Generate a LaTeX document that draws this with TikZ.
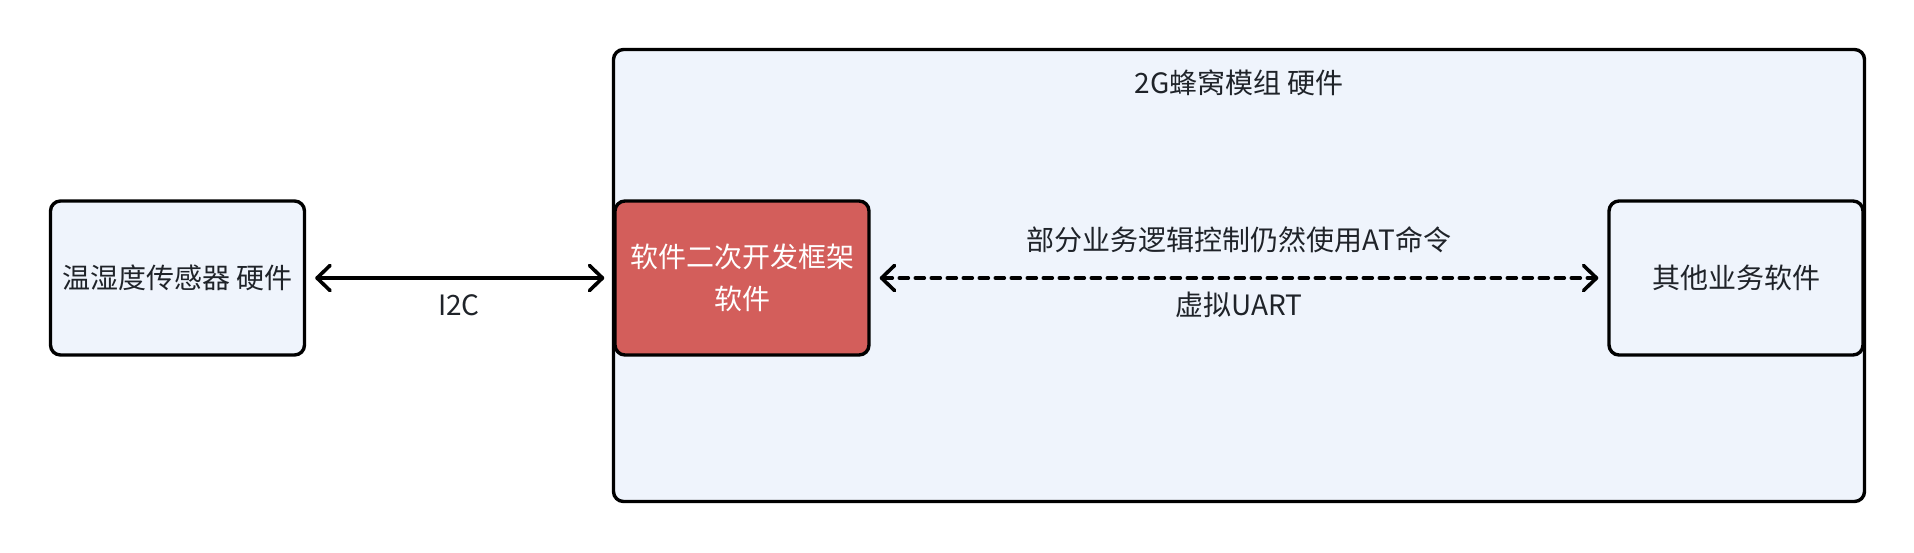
\documentclass[tikz,border=0pt]{standalone}
\usepackage{fontspec}
\setmainfont{Noto Sans CJK SC}
\usepackage{xcolor}
\usepackage{tikz}
\usetikzlibrary{arrows.meta,positioning}
\definecolor{ink}{HTML}{1F2329}
\definecolor{panel}{HTML}{EFF4FC}
\definecolor{core}{HTML}{D35E5B}
\tikzset{
  every picture/.style={line cap=round, line join=round},
  box/.style={draw=black, line width=1.7pt, rounded corners=5pt, fill=panel,
    text=ink, align=center, inner sep=0pt,
    font=\fontsize{14pt}{21pt}\selectfont},
  hot/.style={box, fill=core, text=white},
  lab/.style={text=ink, inner sep=0pt, font=\fontsize{14pt}{21pt}\selectfont},
  link/.style={draw=black, line width=1.8pt,
    {Straight Barb[round,length=6.5pt,width=12.5pt]}-{Straight Barb[round,length=6.5pt,width=12.5pt]},
    shorten <=4.5pt, shorten >=4.5pt},
  virt/.style={link, dash pattern=on 4.5pt off 3.5pt}
}

\begin{document}
\begin{tikzpicture}[x=0.5pt, y=-0.5pt]
  \useasboundingbox (0,0) rectangle (1914,552);

  % module frame
  \node[box, minimum width=625.5pt, minimum height=226pt] (module) at (1239,275.5) {};
  \node[lab] (modtitle) at (1239,83) {2G蜂窝模组 硬件};

  % boxes
  \node[box, minimum width=127pt, minimum height=77pt] (sensor) at (177.5,278) {温湿度传感器 硬件};
  \node[hot, minimum width=127pt, minimum height=77pt] (sdk) at (742,278) {软件二次开发框架\\软件};
  \node[box, minimum width=127pt, minimum height=77pt] (apps) at (1736,278) {其他业务软件};

  % links
  \draw[link] (sensor) -- (sdk);
  \node[lab] (i2c) at (459,305) {I2C};

  \draw[virt] (sdk) -- (apps);
  \node[lab] (atnote) at (1239,240) {部分业务逻辑控制仍然使用AT命令};
  \node[lab] (uart) at (1239,305) {虚拟UART};
\end{tikzpicture}
\end{document}
